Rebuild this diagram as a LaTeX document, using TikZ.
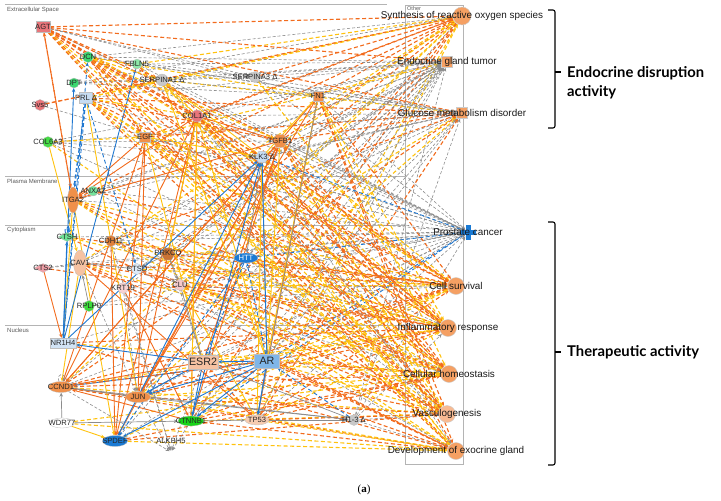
\documentclass[tikz,border=0pt]{standalone}
\usepackage{fontspec}
\setmainfont{Liberation Sans}
\newfontfamily\bracefont{Lato}
\newfontfamily\capfont{Liberation Serif}
\usetikzlibrary{arrows.meta,shapes.geometric}
\pgfdeclarelayer{edgelayer}
\pgfsetlayers{edgelayer,main}
\definecolor{eo}{HTML}{F26B1D}
\definecolor{ey}{HTML}{FFC20E}
\definecolor{eg}{HTML}{8C8C8C}
\definecolor{eb}{HTML}{1F77D0}
\definecolor{cred}{HTML}{E8757A}
\definecolor{cgreen}{HTML}{3CD870}
\definecolor{clgreen}{HTML}{8EE8A8}
\definecolor{cbgreen}{HTML}{18D418}
\definecolor{cgrey}{HTML}{C8C8C8}
\definecolor{clblue}{HTML}{C6DCF2}
\definecolor{cmblue}{HTML}{7FB6E8}
\definecolor{cblue}{HTML}{1A7AD4}
\definecolor{corange}{HTML}{F0904A}
\definecolor{cdorange}{HTML}{E0803A}
\definecolor{cpeach}{HTML}{F6C2A2}
\definecolor{cpink}{HTML}{F0A0A8}
\definecolor{clpink}{HTML}{F8D2D2}
\definecolor{cfun}{HTML}{F5A063}
\definecolor{cfunl}{HTML}{F8BA92}
\definecolor{regline}{HTML}{B4B4B4}
\newcommand\mkgene[5]{\node[#4, draw=black!25, line width=0.3pt, inner sep=0pt, label={[lab]center:#5}] (#1) at (#2,#3) {};}
\tikzset{
  lab/.style={font=\fontsize{7.6}{8}\selectfont, text=black!85, inner sep=0pt},
  flab/.style={font=\fontsize{9.9}{11}\selectfont, text=black!90, inner sep=0pt},
  reg/.style={font=\fontsize{6}{7}\selectfont, text=black!65, anchor=west, inner sep=0pt},
  e/.style={line width=0.9pt, -{Stealth[length=4pt,width=3.5pt]}},
  os/.style={e, draw=eo},
  od/.style={e, draw=eo, dash pattern=on 4pt off 2.5pt, line width=1.1pt},
  ys/.style={e, draw=ey},
  yd/.style={e, draw=ey, dash pattern=on 4pt off 2.5pt, line width=1.1pt},
  gs/.style={e, draw=eg, line width=0.7pt},
  gd/.style={e, draw=eg, dash pattern=on 3pt off 2pt, line width=0.6pt},
  bs/.style={e, draw=eb},
  bd/.style={e, draw=eb, dash pattern=on 4pt off 2.5pt},
  fcirc/.style={circle, fill=cfun, draw=black!20, minimum size=#1, inner sep=0pt},
}
\begin{document}
\begin{tikzpicture}[x=1pt,y=-1pt]
\useasboundingbox (0,0) rectangle (721,501);
% ---------- genes ----------
\mkgene{AGT}{43}{27}{rectangle,minimum width=14pt,minimum height=11pt,fill=cred}{AGT}
\mkgene{DCN}{88}{57}{circle,minimum size=11pt,fill=cgreen}{DCN}
\mkgene{FBLN5}{137}{64}{circle,minimum size=10pt,fill=clgreen}{FBLN5}
\mkgene{SERA1}{162}{80}{circle,minimum size=12pt,fill=cgrey}{SERPINA1 Δ}
\mkgene{SERA3}{255}{77}{circle,minimum size=11pt,fill=cgrey}{SERPINA3 Δ}
\mkgene{DPT}{74}{83}{circle,minimum size=10pt,fill=cgreen}{DPT}
\mkgene{PRL}{86}{98}{rectangle,minimum width=13pt,minimum height=11pt,fill=clblue}{PRL Δ}
\mkgene{Svs5}{40}{105}{circle,minimum size=11pt,fill=cred}{Svs5}
\mkgene{COL1A1}{197}{116}{circle,minimum size=12pt,fill=cred}{COL1A1}
\mkgene{FN1}{318}{96}{rectangle,minimum size=10pt,fill=corange}{FN1}
\mkgene{COL6A3}{48}{142}{circle,minimum size=11pt,fill=cbgreen!80!white}{COL6A3}
\mkgene{EGF}{145}{137}{rectangle,minimum width=11pt,minimum height=10pt,fill=corange}{EGF}
\mkgene{TGFB1}{280}{141}{regular polygon,regular polygon sides=6,minimum size=15pt,fill=corange}{TGFB1}
\mkgene{KLK3}{262}{157}{regular polygon,regular polygon sides=6,minimum size=13pt,fill=clblue}{KLK3 Δ}
\mkgene{ANXA2}{93}{191}{circle,minimum size=10pt,fill=cgreen!70!white}{ANXA2}
\mkgene{ITGA2}{73}{200}{ellipse,minimum width=11pt,minimum height=26pt,fill=corange}{ITGA2}
\mkgene{CTSH}{67}{237}{diamond,minimum width=18pt,minimum height=9pt,fill=cgreen!75!white}{CTSH}
\mkgene{CDH11}{111}{241}{circle,minimum size=11pt,fill=cdorange}{CDH11}
\mkgene{PRKCQ}{168}{254}{regular polygon,regular polygon sides=6,minimum size=14pt,fill=cdorange!90!black}{PRKCQ}
\mkgene{CTS2}{43}{268}{diamond,minimum width=18pt,minimum height=9pt,fill=cpink}{CTS2}
\mkgene{CAV1}{80}{263}{ellipse,minimum width=13pt,minimum height=26pt,fill=cpeach}{CAV1}
\mkgene{CTSD}{137}{269}{circle,minimum size=11pt,fill=clblue!60!white}{CTSD}
\mkgene{HTT}{246}{258}{ellipse,minimum width=24pt,minimum height=10pt,fill=cblue}{\textcolor{white}{HTT}}
\mkgene{KRT19}{123}{288}{circle,minimum size=11pt,fill=clpink}{KRT19}
\mkgene{CLU}{180}{285}{circle,minimum size=11pt,fill=clpink!80!cpink}{CLU}
\mkgene{RPLP0}{89}{306}{circle,minimum size=11pt,fill=cbgreen!85!white}{RPLP0}
\mkgene{NR1H4}{63}{343}{rectangle,minimum width=26pt,minimum height=10pt,fill=clblue!80!white}{NR1H4}
\node[rectangle,minimum width=30pt,minimum height=14pt,fill=cpeach,draw=black!25,line width=0.3pt,inner sep=0pt,
      label={[lab,font=\fontsize{10.7}{11}\selectfont]center:ESR2}] (ESR2) at (203,362) {};
\node[rectangle,minimum width=25pt,minimum height=14pt,fill=cmblue,draw=black!25,line width=0.3pt,inner sep=0pt,
      label={[lab,font=\fontsize{10.7}{11}\selectfont]center:AR}] (AR) at (267,361) {};
\mkgene{CCND1}{61}{387}{ellipse,minimum width=25pt,minimum height=11pt,fill=corange}{CCND1}
\mkgene{JUN}{138}{397}{ellipse,minimum width=25pt,minimum height=11pt,fill=corange}{JUN}
\mkgene{WDR77}{62}{423}{ellipse,minimum width=25pt,minimum height=10pt,fill=white}{WDR77}
\mkgene{CTNNB1}{191}{421}{ellipse,minimum width=26pt,minimum height=10pt,fill=cbgreen}{CTNNB1}
\mkgene{TP53}{257}{420}{ellipse,minimum width=24pt,minimum height=10pt,fill=cpeach!85!white}{TP53}
\mkgene{H13}{354}{420}{circle,minimum size=11pt,fill=cgrey}{H1-3 Δ}
\mkgene{SPDEF}{115}{441}{ellipse,minimum width=25pt,minimum height=11pt,fill=cblue}{SPDEF}
\node[circle,minimum size=3pt,inner sep=0pt] (ALKBH5) at (171,452) {};
\node[lab] (ALKBH5l) at (171,441) {ALKBH5};
% ---------- functions ----------
\node[fcirc=18pt, label={[flab]center:Synthesis of reactive oxygen species}] (ROS) at (462,16) {};
\node[rectangle, fill=cfun, draw=black!20, minimum size=11pt, inner sep=0pt, label={[flab]center:Endocrine gland tumor}] (EGT) at (447,62) {};
\node[rectangle, fill=cfun, draw=black!20, minimum size=11pt, inner sep=0pt, label={[flab]center:Glucose metabolism disorder}] (GMD) at (462,113) {};
\node[rectangle, fill=cblue, minimum width=15pt, minimum height=5pt, inner sep=0pt] (PCh) at (468,232) {};
\node[rectangle, fill=cblue, minimum width=5pt, minimum height=15pt, inner sep=0pt, label={[flab]center:Prostate cancer}] (PC) at (468,232) {};
\node[fcirc=17pt, label={[flab]center:Cell survival}] (CS) at (456,286) {};
\node[fcirc=17pt, label={[flab]center:Inflammatory response}] (IR) at (448,328) {};
\node[fcirc=17pt, label={[flab]center:Cellular homeostasis}] (CH) at (449,374) {};
\node[fcirc=17pt, fill=cfunl, label={[flab]center:Vasculogenesis}] (VG) at (447,414) {};
\node[fcirc=17pt, label={[flab]center:Development of exocrine gland}] (DEG) at (456,451) {};
% ---------- annotations ----------
\node[reg] (lES) at (7,10) {Extracellular Space};
\node[reg] (lPM) at (7,181) {Plasma Membrane};
\node[reg] (lCY) at (7,230) {Cytoplasm};
\node[reg] (lNU) at (7,330) {Nucleus};
\node[reg,font=\fontsize{5.5}{6}\selectfont] (lOT) at (407,9) {Other};
\node[anchor=west, align=left, inner sep=0pt, font=\bracefont\bfseries\fontsize{14.8}{19}\selectfont] (BT1) at (567,83) {Endocrine disruption\\activity};
\node[anchor=west, inner sep=0pt, font=\bracefont\bfseries\fontsize{14.8}{17}\selectfont] (BT2) at (567,352) {Therapeutic activity};
\node[font=\capfont\fontsize{11}{12}\selectfont, inner sep=0pt] (CAP) at (364,490) {(\textbf{a})};
\draw[line width=1.1pt, rounded corners=2pt] (548,10) -- (555,10) -- (555,128) -- (548,128);
\draw[line width=1.1pt] (555,72) -- (561,72);
\draw[line width=1.1pt, rounded corners=2pt] (548,222) -- (555,222) -- (555,465) -- (548,465);
\draw[line width=1.1pt] (555,352) -- (561,352);
% ---------- edges ----------
\begin{pgfonlayer}{edgelayer}
\draw[regline, line width=0.8pt] (5,4) -- (387,4);
\draw[regline, line width=0.8pt] (5,176) -- (405,176);
\draw[regline, line width=0.8pt] (5,225) -- (405,225);
\draw[regline, line width=0.8pt] (5,325) -- (405,325);
\draw[regline, line width=0.8pt] (405,5) rectangle (463,464);
% ROS
\foreach \g/\s in {AGT/od, DCN/gd, FBLN5/yd, SERA1/yd, SERA3/od, PRL/yd, COL1A1/od, FN1/od, EGF/od, TGFB1/od, KLK3/yd, ITGA2/od, CAV1/yd, PRKCQ/od, HTT/gd, CLU/yd, ESR2/od, AR/yd, JUN/od, CCND1/yd, CTNNB1/od, TP53/yd, DPT/gd, Svs5/od}
  {\draw[\s] (\g) -- (ROS);}
% EGT
\foreach \g/\s in {AGT/od, DCN/gd, SERA1/gd, SERA3/gd, PRL/gd, COL1A1/gd, FN1/gd, EGF/yd, TGFB1/gd, KLK3/gd, COL6A3/gd, ITGA2/gd, CAV1/gd, CDH11/gd, PRKCQ/gd, CTSD/gd, HTT/gd, KRT19/gd, CLU/gd, ESR2/gd, AR/gd, CCND1/gd, JUN/gd, CTNNB1/gd, TP53/gd, H13/gd, SPDEF/gd, DPT/gd, ANXA2/gd, FBLN5/gd}
  {\draw[\s] (\g) -- (EGT);}
% GMD
\foreach \g/\s in {AGT/od, DCN/gd, SERA1/yd, SERA3/gd, PRL/od, COL1A1/gd, FN1/gd, EGF/od, TGFB1/od, KLK3/gd, CAV1/gd, ANXA2/gd, ITGA2/gd, PRKCQ/gd, CLU/yd, ESR2/gd, AR/gd, CCND1/od, JUN/yd, CTNNB1/gd, TP53/od, H13/gd, FBLN5/gd, COL6A3/gd, CDH11/od}
  {\draw[\s] (\g) -- (GMD);}
% PC
\foreach \g/\s in {AGT/gd, DCN/gd, FBLN5/gd, SERA1/gd, SERA3/gd, PRL/gd, COL1A1/gd, FN1/gd, EGF/gd, TGFB1/gd, KLK3/bd, COL6A3/gd, ITGA2/gd, CTSH/gd, CDH11/gd, CAV1/gd, CTSD/gd, HTT/bd, KRT19/gd, CLU/gd, ESR2/gd, AR/bd, CCND1/gd, JUN/gd, CTNNB1/bd, TP53/gd, H13/gd, SPDEF/gd, NR1H4/gd, RPLP0/gd, Svs5/gd, CTS2/gd, ANXA2/gd}
  {\draw[\s] (\g) -- (PC);}
% CS
\foreach \g/\s in {AGT/od, DCN/yd, SERA1/od, PRL/od, COL1A1/yd, FN1/od, EGF/od, TGFB1/yd, KLK3/od, ITGA2/yd, CTSH/od, CDH11/yd, CAV1/od, CTSD/yd, HTT/od, CLU/yd, ESR2/od, AR/yd, CCND1/od, JUN/od, CTNNB1/yd, TP53/od, SPDEF/yd, ANXA2/od, KRT19/gd, PRKCQ/od, RPLP0/gd}
  {\draw[\s] (\g) -- (CS);}
% IR
\foreach \g/\s in {AGT/od, DCN/od, FBLN5/yd, SERA1/od, SERA3/yd, PRL/yd, COL1A1/od, FN1/yd, EGF/od, TGFB1/od, KLK3/yd, ITGA2/od, CTSH/yd, CAV1/od, CLU/od, HTT/yd, ESR2/yd, AR/od, CCND1/yd, JUN/od, CTNNB1/od, TP53/yd, NR1H4/od, COL6A3/gd, CTS2/od, CDH11/gd, PRKCQ/yd, H13/gd}
  {\draw[\s] (\g) -- (IR);}
% CH
\foreach \g/\s in {AGT/yd, DCN/od, SERA1/yd, PRL/od, COL1A1/od, FN1/yd, EGF/yd, TGFB1/od, KLK3/od, ITGA2/yd, CAV1/yd, CDH11/od, CTSD/od, CLU/yd, ESR2/yd, AR/od, CCND1/od, JUN/yd, CTNNB1/od, TP53/od, SPDEF/od, NR1H4/yd, WDR77/yd, KRT19/gd, HTT/yd, ANXA2/gd, PRKCQ/od}
  {\draw[\s] (\g) -- (CH);}
% VG
\foreach \g/\s in {AGT/od, DCN/yd, FBLN5/od, SERA1/gd, PRL/yd, COL1A1/od, FN1/od, EGF/od, TGFB1/yd, KLK3/yd, ITGA2/od, CAV1/od, CDH11/yd, CLU/od, HTT/gd, ESR2/od, AR/yd, CCND1/yd, JUN/od, CTNNB1/yd, TP53/od, SPDEF/od, COL6A3/yd, CTSH/od, H13/gd}
  {\draw[\s] (\g) -- (VG);}
% DEG
\foreach \g/\s in {AGT/yd, DCN/od, SERA1/yd, PRL/od, COL1A1/yd, FN1/od, EGF/yd, TGFB1/od, KLK3/gd, ITGA2/yd, CAV1/od, CLU/yd, ESR2/od, AR/od, CCND1/od, JUN/yd, CTNNB1/od, TP53/yd, SPDEF/yd, WDR77/yd, H13/gd, CTSD/gd, NR1H4/od, KRT19/od}
  {\draw[\s] (\g) -- (DEG);}
% gene-gene
\foreach \a/\b/\s in {
  TGFB1/COL1A1/os, TGFB1/FN1/os, TGFB1/ITGA2/os, COL1A1/ITGA2/os, EGF/CCND1/os, EGF/JUN/os, TGFB1/JUN/os,
  TGFB1/CCND1/os, JUN/CCND1/os, CTNNB1/CCND1/os, ESR2/CCND1/os, TGFB1/SPDEF/os, EGF/SPDEF/os, COL1A1/SPDEF/os,
  CDH11/SPDEF/os, COL1A1/CTNNB1/os, CAV1/TP53/os, CTS2/NR1H4/os, KRT19/CTNNB1/os, EGF/ITGA2/os,
  CCND1/TGFB1/os, CTNNB1/TGFB1/os, TP53/FN1/os, JUN/FN1/os, ESR2/TGFB1/os, CCND1/COL1A1/os, JUN/COL1A1/os,
  KLK3/SERA1/ys, AR/SERA1/ys, AR/FN1/ys, KLK3/FN1/ys, AR/COL1A1/ys, PRKCQ/COL1A1/ys, ITGA2/NR1H4/ys,
  COL6A3/CAV1/ys, AR/TGFB1/ys, WDR77/SPDEF/ys, ITGA2/SPDEF/ys, CLU/TP53/ys, KLK3/EGF/ys, ESR2/EGF/ys,
  TP53/KLK3/ys, CTNNB1/COL1A1/ys, CAV1/CCND1/ys, PRL/JUN/ys,
  WDR77/CCND1/gs, WDR77/CTNNB1/gs, CTNNB1/TP53/gs, TP53/H13/gs, FN1/TP53/gs, KLK3/AR/gs, AR/TP53/gs,
  PRKCQ/CLU/gs, PRKCQ/CTSD/gs, JUN/H13/gs, CCND1/H13/gs, ESR2/H13/gs, CAV1/CTSD/gs, RPLP0/CAV1/gs, ESR2/JUN/gs,
  CCND1/JUN/gs, CLU/ESR2/gs, KLK3/HTT/gs,
  JUN/ALKBH5/gd, ESR2/ALKBH5/gd, CCND1/ALKBH5/gd, CTNNB1/ALKBH5/gd, CDH11/ALKBH5/gd, KRT19/ALKBH5/gd,
  DCN/SERA3/gd, COL6A3/TGFB1/gd, DPT/SERA3/gd, AGT/FN1/gd, SERA1/FN1/gd, CAV1/JUN/gd, PRKCQ/ESR2/gd,
  KRT19/JUN/gd, COL6A3/KLK3/gd, AGT/SERA3/gd, DPT/FN1/gd, CDH11/CLU/gd, CTS2/CAV1/gd,
  NR1H4/DPT/bs, NR1H4/FBLN5/bs, NR1H4/CTSH/bs, AR/ESR2/bs, AR/CCND1/bs, AR/JUN/bs, ESR2/JUN/bs, AR/SPDEF/bs,
  SPDEF/KLK3/bs, NR1H4/KLK3/bs, AR/CTNNB1/bs, ESR2/CTNNB1/bs, AR/TP53/bs, AR/KLK3/bs, CTNNB1/KLK3/bs, ESR2/NR1H4/bs,
  PRL/NR1H4/bd, PRL/CTSH/bd, PRL/ITGA2/bd, NR1H4/DCN/bd, PRL/CTSD/bd, HTT/SPDEF/bd, AR/HTT/bd, H13/AR/bd, HTT/ESR2/bd,
  AGT/SERA1/od, AGT/EGF/od, AGT/COL1A1/od, Svs5/SERA1/od, ITGA2/AGT/od, PRL/TGFB1/od, AGT/TGFB1/od, ESR2/TP53/od,
  CCND1/AR/od, DCN/COL1A1/od, AGT/ITGA2/od, DCN/EGF/od, AGT/KLK3/od,
  DCN/SERA1/yd, PRL/SERA1/yd, PRL/EGF/yd, DCN/FN1/yd, PRL/COL1A1/yd, COL6A3/EGF/yd, DCN/TGFB1/yd}
  {\draw[\s] (\a) -- (\b);}
\draw[bd] (CTSH) to[out=110,in=70,looseness=7] (CTSH);
\draw[gd] (CCND1) to[out=110,in=70,looseness=6] (CCND1);
\end{pgfonlayer}
\end{tikzpicture}
\end{document}
